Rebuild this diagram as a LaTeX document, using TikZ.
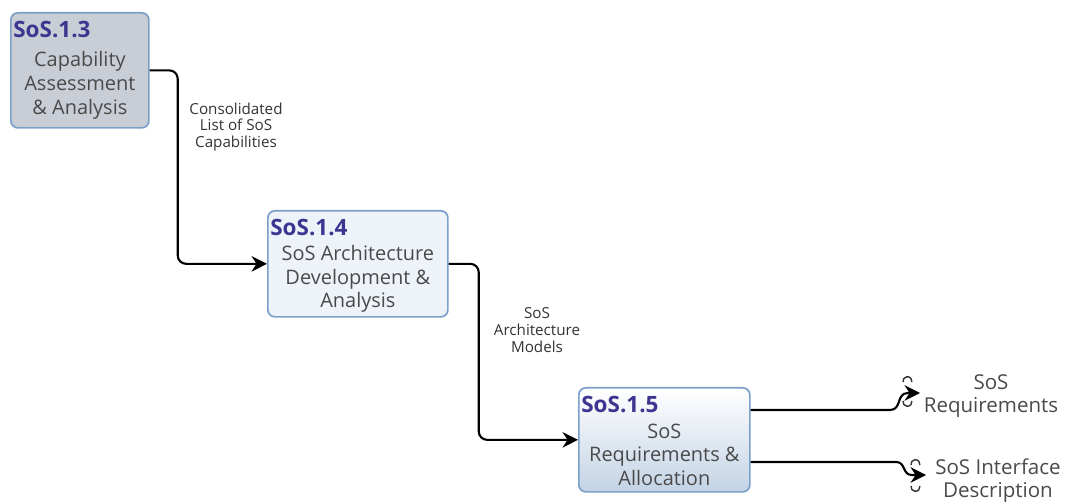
\documentclass[tikz,border=0pt]{standalone}
\usepackage{fontspec}
\setmainfont{Open Sans}
\usetikzlibrary{arrows.meta}
\definecolor{boxline}{HTML}{7A9FC9}
\definecolor{greyfill}{HTML}{C9CED6}
\definecolor{palefill}{HTML}{EEF3FA}
\definecolor{gradfill}{HTML}{C3D3E5}
\definecolor{idcolor}{HTML}{3D3590}
\definecolor{bodytext}{HTML}{4A4A4A}
\tikzset{
    activity/.style={draw=boxline, line width=1.2pt, rounded corners=5pt, inner sep=0pt, anchor=north west},
    actid/.style={anchor=base west, inner sep=0pt, text=idcolor, font=\fontsize{16}{18}\selectfont\bfseries},
    actname/.style={align=center, inner sep=0pt, text=bodytext, font=\fontsize{14.2}{17}\selectfont},
    flowlabel/.style={align=center, inner sep=0pt, text=black!80, font=\fontsize{10.8}{12}\selectfont},
    outlabel/.style={align=center, inner sep=0pt, text=bodytext, font=\fontsize{14.6}{16.5}\selectfont},
    flow/.style={line width=1.5pt, rounded corners=6pt, -{Stealth[length=11pt,width=11pt]}},
    tunnel/.style={line width=1pt, black!80}
}
\begin{document}
\begin{tikzpicture}[x=0.025cm, y=-0.025cm]
    \useasboundingbox (0,0) rectangle (1074,504);
    % activity boxes
    \node[activity, fill=greyfill, minimum width=3.45cm, minimum height=2.875cm] (caa) at (10,12) {};
    \node[activity, fill=palefill, minimum width=4.5cm, minimum height=2.65cm] (sad) at (267,210) {};
    \node[activity, top color=white, bottom color=gradfill, minimum width=4.275cm, minimum height=2.6cm] (sra) at (578,387) {};
    \node[actid] (caaid) at ([shift={(3,26)}]caa.north west) {SoS.1.3};
    \node[actid] (sadid) at ([shift={(3,26)}]sad.north west) {SoS.1.4};
    \node[actid] (sraid) at ([shift={(3,26)}]sra.north west) {SoS.1.5};
    \node[actname] (caaname) at ([shift={(0,15)}]caa.center) {Capability\\Assessment\\\& Analysis};
    \node[actname] (sadname) at ([shift={(0,15)}]sad.center) {SoS Architecture\\Development \&\\Analysis};
    \node[actname] (sraname) at ([shift={(0,15)}]sra.center) {SoS\\Requirements \&\\Allocation};
    % flows between boxes
    \draw[flow] (caa.east) -- ++(28,0) |- (sad.west);
    \draw[flow] (sad.east) -- ++(30,0) |- (sra.west);
    \node[flowlabel] (capl) at (236,127) {Consolidated\\List of SoS\\Capabilities};
    \node[flowlabel] (arcl) at (537,330) {SoS\\Architecture\\Models};
    % tunneled outputs
    \coordinate (reqtip) at (920,393);
    \coordinate (iftip) at (926,475);
    \draw[flow, rounded corners=0pt] ([shift={(0,23)}]sra.north east) -- (890,410) .. controls (902,410) and (896,393) .. (908,393) -- (reqtip);
    \draw[flow, rounded corners=0pt] ([shift={(0,75)}]sra.north east) -- (896,462) .. controls (906,462) and (902,475) .. (912,475) -- (iftip);
    \draw[tunnel] (903,382) arc (170:370:4.5);
    \draw[tunnel] (903,401) arc (190:-10:4.5);
    \draw[tunnel] (911,465) arc (170:370:4.5);
    \draw[tunnel] (911,486) arc (190:-10:4.5);
    \node[outlabel] (reql) at (991,396) {SoS\\Requirements};
    \node[outlabel] (ifl) at (998,481) {SoS Interface\\Description};
\end{tikzpicture}
\end{document}
